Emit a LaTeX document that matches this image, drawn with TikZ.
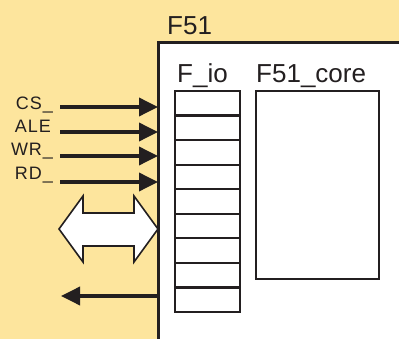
\documentclass[tikz,border=0pt]{standalone}
\usepackage{fontspec}
\setmainfont{Liberation Sans}
\newfontfamily\lblfont[LetterSpace=5]{Liberation Sans}
\usetikzlibrary{arrows.meta}
\definecolor{bgy}{RGB}{253,229,157}
\definecolor{ink}{RGB}{35,31,32}
\begin{document}
\begin{tikzpicture}[x=1pt,y=-1pt,
  lbl/.style={font=\lblfont\fontsize{18}{20}\selectfont,text=ink,inner sep=0pt,anchor=base east},
  ttl/.style={font=\fontsize{26}{28}\selectfont,text=ink,inner sep=0pt,anchor=base west},
  sig/.style={draw=ink,line width=3.6pt,-{Triangle[length=19pt,width=18pt]}},
  cell/.style={draw=ink,line width=2.2pt}]
\fill[bgy] (0,0) rectangle (399,339);
\useasboundingbox (0,0) rectangle (399,339);
% chip body
\fill[white] (158,43) rectangle (401,341);
\node[inner sep=0pt,minimum width=241pt,minimum height=296pt,anchor=north west] (chip) at (158,43) {};
\draw[ink,line width=3pt] (158,341) -- (158,43) -- (401,43);
\node[ttl] (t51) at (167,35) {F51};
\node[ttl] (tio) at (177,83) {F\_io};
\node[ttl] (tcore) at (256,83) {F51\_core};
% F_io column
\foreach \i in {1,...,8} {
  \draw[cell] (175,{91+\i*24.56}) -- (240,{91+\i*24.56});
}
\draw[cell] (175,91) rectangle (240,312);
% core box
\draw[ink,line width=2.5pt] (256,91) rectangle (379,279);
% signal labels and arrows
\node[lbl] (cs) at (53,110) {CS\_};
\node[lbl] (ale) at (51,133) {ALE};
\node[lbl] (wr) at (53,156) {WR\_};
\node[lbl] (rd) at (53,179.5) {RD\_};
\coordinate (s1) at (60,107);
\coordinate (s2) at (60,132);
\coordinate (s3) at (60,156);
\coordinate (s4) at (60,182);
\draw[sig] (s1) -- (chip.west |- s1);
\draw[sig] (s2) -- (chip.west |- s2);
\draw[sig] (s3) -- (chip.west |- s3);
\draw[sig] (s4) -- (chip.west |- s4);
% bidirectional bus arrow
\draw[ink,fill=white,line width=1.6pt,line join=miter]
  (59,229) -- (83,196) -- (83,213) -- (134,213) -- (134,196) -- (158,229)
  -- (134,262) -- (134,246) -- (83,246) -- (83,262) -- cycle;
% output arrow
\coordinate (o1) at (61,296);
\draw[sig] (chip.west |- o1) -- (o1);
\end{tikzpicture}
\end{document}
